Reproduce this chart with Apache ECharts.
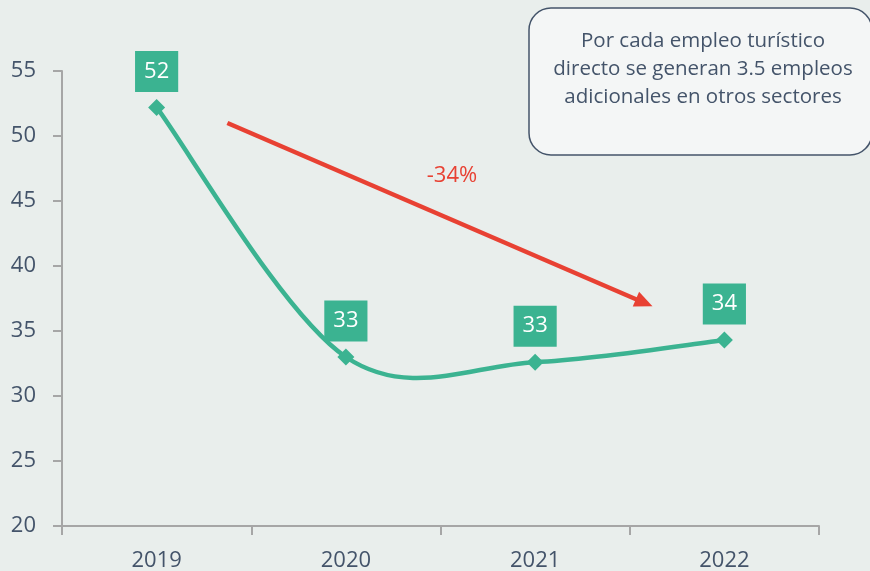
<!DOCTYPE html>
<html>
<head>
<meta charset="utf-8">
<script src="https://cdn.jsdelivr.net/npm/echarts@6/dist/echarts.min.js"></script>
<style>
  html, body { margin: 0; padding: 0; background: #e9eeec; }
  #chart { width: 870px; height: 571px; }
</style>
</head>
<body>
<div id="chart"></div>
<script>
// datos
var years = ["2019", "2020", "2021", "2022"];
var empleos = [52.2, 33.0, 32.6, 34.3];
var yTicks = { min: 20, max: 55, step: 5 };
// flecha de tendencia: [índice de categoría, valor]
var flechaInicio = [0.374, 51.0];
var flechaFin = [2.62, 36.9];
var flechaTexto = "-34%";
var notaLineas = [
  "Por cada empleo turístico",
  "directo se generan 3.5 empleos",
  "adicionales en otros sectores"
];

(function() {
  var myChart = echarts.init(document.getElementById("chart"));
  var verde = "#3bb391";
  var rojo = "#e84133";
  var texto = "#44546a";
  var eje = "#a6a6a6";
  var n = empleos.length;

  // curva suavizada tipo Excel (Catmull-Rom) usando las escalas del gráfico
  function curva(params, api) {
    var i = params.dataIndex;
    if (i >= n - 1) return null;
    function p(j) {
      j = Math.max(0, Math.min(n - 1, j));
      return api.coord([j, empleos[j]]);
    }
    var p0 = p(i - 1), p1 = p(i), p2 = p(i + 1), p3 = p(i + 2);
    return {
      type: "bezierCurve",
      shape: {
        x1: p1[0], y1: p1[1],
        x2: p2[0], y2: p2[1],
        cpx1: p1[0] + (p2[0] - p0[0]) / 6,
        cpy1: p1[1] + (p2[1] - p0[1]) / 6,
        cpx2: p2[0] - (p3[0] - p1[0]) / 6,
        cpy2: p2[1] - (p3[1] - p1[1]) / 6
      },
      style: { stroke: verde, lineWidth: 4.5, fill: null, lineCap: "round" }
    };
  }

  var option = {
    backgroundColor: "#e9eeec",
    animation: false,
    textStyle: { fontFamily: "Open Sans" },
    grid: { left: 62, right: 51, top: 71, bottom: 45, outerBoundsMode: "none" },
    xAxis: {
      type: "category",
      data: years,
      boundaryGap: true,
      axisLine: { lineStyle: { color: eje, width: 2 } },
      axisTick: { show: true, length: 9, lineStyle: { color: eje, width: 2 } },
      axisLabel: { color: texto, fontSize: 22, margin: 24 }
    },
    yAxis: {
      type: "value",
      min: yTicks.min,
      max: yTicks.max,
      interval: yTicks.step,
      axisLine: { show: true, lineStyle: { color: eje, width: 2 } },
      axisTick: { show: true, length: 9, lineStyle: { color: eje, width: 2 } },
      axisLabel: { color: texto, fontSize: 22, margin: 26 },
      splitLine: { show: false }
    },
    series: [
      {
        name: "curva",
        type: "custom",
        z: 1,
        clip: false,
        silent: true,
        data: empleos.map(function(v, i) { return [i, v]; }),
        encode: { x: 0, y: 1 },
        renderItem: curva
      },
      {
        name: "Empleos",
        type: "line",
        z: 3,
        data: empleos,
        symbol: "diamond",
        symbolSize: 17,
        lineStyle: { opacity: 0 },
        itemStyle: { color: verde },
        label: {
          show: true,
          position: "top",
          distance: 7,
          formatter: function(p) {
            return Math.round(p.value);
          },
          backgroundColor: verde,
          color: "#fff",
          fontSize: 22,
          lineHeight: 27,
          padding: [7, 9, 7, 9]
        }
      }
    ]
  };

  myChart.setOption(option);

  // flecha y cuadros de texto
  function dibujarAnotaciones() {
    var x0 = myChart.convertToPixel({ xAxisIndex: 0 }, 0);
    var x1 = myChart.convertToPixel({ xAxisIndex: 0 }, 1);
    var paso = x1 - x0;
    function px(c) {
      return [
        x0 + c[0] * paso,
        myChart.convertToPixel({ yAxisIndex: 0 }, c[1])
      ];
    }
    var a = px(flechaInicio);
    var b = px(flechaFin);
    var dx = b[0] - a[0], dy = b[1] - a[1];
    var len = Math.sqrt(dx * dx + dy * dy);
    var ux = dx / len, uy = dy / len;
    var largo = 18, ancho = 8;
    var base = [b[0] - ux * largo, b[1] - uy * largo];

    myChart.setOption({
      graphic: [
        {
          type: "line",
          z: 5,
          shape: { x1: a[0], y1: a[1], x2: base[0] + ux * 2, y2: base[1] + uy * 2 },
          style: { stroke: rojo, lineWidth: 4.5 }
        },
        {
          type: "polygon",
          z: 5,
          shape: {
            points: [
              b,
              [base[0] - uy * ancho, base[1] + ux * ancho],
              [base[0] + uy * ancho, base[1] - ux * ancho]
            ]
          },
          style: { fill: rojo }
        },
        {
          type: "text",
          z: 5,
          x: 452,
          y: 176,
          style: {
            text: flechaTexto,
            fill: rojo,
            font: "22px 'Open Sans'",
            align: "center",
            verticalAlign: "middle"
          }
        },
        {
          type: "rect",
          z: 5,
          shape: { x: 529, y: 8, width: 343, height: 147, r: 22 },
          style: { fill: "#f4f6f6", stroke: texto, lineWidth: 1.5 }
        },
        {
          type: "text",
          z: 6,
          x: 703,
          y: 69,
          style: {
            text: notaLineas.join("\n"),
            fill: texto,
            font: "20.5px 'Open Sans'",
            align: "center",
            verticalAlign: "middle",
            lineHeight: 28
          }
        }
      ]
    });
  }
  dibujarAnotaciones();

  window.addEventListener("resize", function() {
    myChart.resize();
    dibujarAnotaciones();
  });
})();
</script>
</body>
</html>
